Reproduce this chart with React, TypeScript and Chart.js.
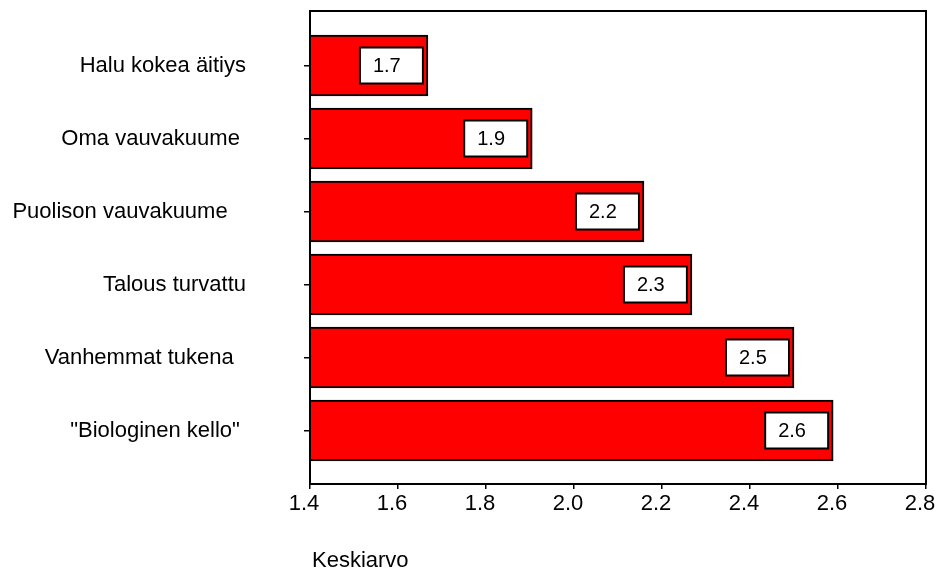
import React, { useEffect, useRef } from "react";
import { Chart, registerables } from "chart.js";

Chart.register(...registerables);

// Category labels (trailing spaces as in the source labels)
const categories: string[] = [
  "Halu kokea äitiys",
  "Oma vauvakuume ",
  "Puolison vauvakuume   ",
  "Talous turvattu",
  "Vanhemmat tukena  ",
  "\"Biologinen kello\" ",
];

// Mean values (Keskiarvo)
const values: number[] = [1.668, 1.905, 2.159, 2.268, 2.5, 2.589];

// X axis settings
const xMin = 1.4;
const xMax = 2.8;
const xStep = 0.2;
const xTitle = "Keskiarvo";

const FONT = "'Liberation Sans', Arial, Helvetica, sans-serif";

export default function App() {
  const ref = useRef<HTMLCanvasElement | null>(null);

  useEffect(() => {
    if (!ref.current) return;

    const frameAndLabels = {
      id: "frameAndLabels",
      afterDatasetsDraw(chart: any) {
        const { ctx, chartArea } = chart;
        ctx.save();
        // plot frame
        ctx.strokeStyle = "#000";
        ctx.lineWidth = 2;
        ctx.strokeRect(
          chartArea.left,
          chartArea.top + 1,
          chartArea.right - chartArea.left,
          chartArea.bottom - chartArea.top - 1
        );
        // value boxes
        const meta = chart.getDatasetMeta(0);
        meta.data.forEach((bar: any, i: number) => {
          const w = 63;
          const h = 36;
          const right = bar.x - 5;
          const left = right - w;
          const top = bar.y - h / 2;
          ctx.fillStyle = "#fff";
          ctx.fillRect(left, top, w, h);
          ctx.strokeStyle = "#000";
          ctx.lineWidth = 2;
          ctx.strokeRect(left, top, w, h);
          ctx.fillStyle = "#000";
          ctx.font = `20px ${FONT}`;
          ctx.textAlign = "left";
          ctx.textBaseline = "middle";
          ctx.fillText(values[i].toFixed(1), left + 13, bar.y + 1);
        });
        // x axis title
        ctx.font = `22px ${FONT}`;
        ctx.textAlign = "left";
        ctx.textBaseline = "middle";
        ctx.fillStyle = "#000";
        ctx.fillText(xTitle, chartArea.left + 2, 561);
        ctx.restore();
      },
    };

    const chart = new Chart(ref.current, {
      type: "bar",
      data: {
        datasets: [
          {
            data: values.map((v, i) => ({ x: v, y: i })),
            backgroundColor: "#ff0000",
            borderColor: "#000000",
            borderWidth: 2,
            barThickness: 61,
          } as any,
        ],
      },
      options: {
        indexAxis: "y",
        animation: false,
        responsive: false,
        layout: { padding: { top: 10, right: 9, left: 0, bottom: 0 } },
        plugins: {
          legend: { display: false },
          tooltip: { enabled: false },
        },
        scales: {
          x: {
            type: "linear",
            min: xMin,
            max: xMax,
            offset: false,
            border: { display: false },
            grid: {
              offset: false,
              drawOnChartArea: false,
              drawTicks: true,
              tickLength: 5,
              color: "#000",
              lineWidth: 1.5,
            },
            ticks: {
              stepSize: xStep,
              padding: 2,
              labelOffset: -6,
              color: "#000",
              font: { size: 22, family: FONT },
              callback: (v: any) => Number(v).toFixed(1),
            },
            afterFit: (scale: any) => {
              scale.height = 87;
              scale.paddingLeft = 0;
              scale.paddingRight = 0;
            },
          },
          y: {
            type: "linear",
            reverse: true,
            min: -0.7603,
            max: 5.7329,
            offset: false,
            border: { display: false },
            grid: {
              offset: false,
              drawOnChartArea: false,
              drawTicks: true,
              tickLength: 6,
              color: "#000",
              lineWidth: 1.5,
            },
            ticks: {
              padding: 58,
              color: "#000",
              font: { size: 22, family: FONT },
              callback: (v: any) => categories[Number(v)] ?? "",
            },
            afterBuildTicks: (scale: any) => {
              scale.ticks = categories.map((_, i) => ({ value: i }));
            },
            afterFit: (scale: any) => {
              scale.width = 310;
              scale.paddingTop = 0;
              scale.paddingBottom = 0;
            },
          },
        },
      } as any,
      plugins: [frameAndLabels],
    });

    return () => chart.destroy();
  }, []);

  return (
    <div style={{ position: "fixed", left: 0, top: 0, width: 935, height: 571, background: "#fff" }}>
      <canvas ref={ref} width={935} height={571} style={{ display: "block" }} />
    </div>
  );
}
